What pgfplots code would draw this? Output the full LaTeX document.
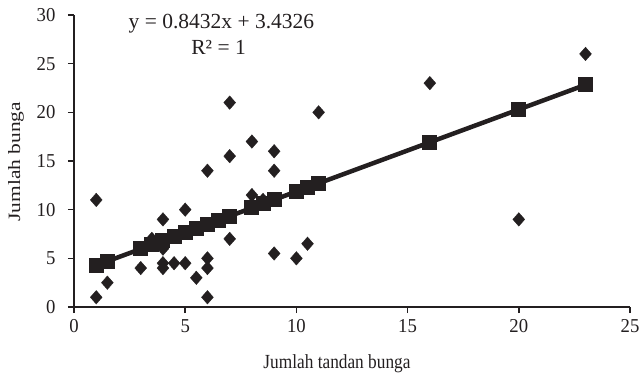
\documentclass[border=0pt]{standalone}
\usepackage{pgfplots}
\pgfplotsset{compat=1.18}
\usepackage{fontspec}
\setmainfont{Liberation Serif}
\newfontfamily\tickfont{Liberation Serif}[FakeStretch=0.95]
\newfontfamily\xlabfont{Liberation Serif}[FakeStretch=0.865]
\newfontfamily\ylabfont{Liberation Serif}[FakeStretch=1.24]
\definecolor{ink}{HTML}{231F20}
\begin{document}
\begin{tikzpicture}
\useasboundingbox (-74pt,-74pt) rectangle (569pt,307pt);
\begin{axis}[
  at={(0pt,0pt)}, anchor=origin,
  scale only axis, width=556pt, height=292pt,
  xmin=0, xmax=25, ymin=0, ymax=30,
  axis x line=bottom, axis y line=left,
  axis line style={ink, line width=1.8pt, -},
  tick style={ink, line width=1.6pt},
  tick align=outside, major tick length=6pt,
  xtick={0,5,10,15,20,25}, ytick={0,5,10,15,20,25,30},
  /pgf/number format/assume math mode=true,
  ticklabel style={font=\tickfont\fontsize{19.7pt}{22pt}\selectfont, text=ink},
  xticklabel style={yshift=-3pt},
  yticklabel style={xshift=-9pt},
  xlabel={Jumlah tandan bunga}, ylabel={Jumlah bunga},
  xlabel style={font=\xlabfont\fontsize{20pt}{24pt}\selectfont, text=ink,
     at={(axis description cs:0.473,-0.2123)}, anchor=base},
  ylabel style={font=\ylabfont\fontsize{17.3pt}{20pt}\selectfont, text=ink,
     at={(axis description cs:-0.0971,0.4976)}, anchor=base},
  clip=false,
]
\addplot[only marks, mark=diamond*, mark size=6.8pt, mark options={xscale=1.17, fill=ink, draw=ink, line width=0.3pt}] coordinates {
(1,11) (1,1) (1.5,2.5) (3,4) (3.5,7) (4,9) (4,6) (4,4.5) (4,4) (4.5,4.5) (5,4.5) (5,10) (5.5,3)
(6,5) (6,4) (6,1) (6,14) (7,21) (7,15.5) (7,7) (8,17) (8,11.5) (8.5,11) (9,16) (9,14) (9,5.5)
(10,5) (10.5,6.5) (11,20) (16,23) (20,9) (23,26)
};
\addplot[ink, line width=4.5pt, mark=square*, mark size=7pt, mark options={fill=ink, draw=ink, line width=0pt}] coordinates {
(1,4.2758) (1.5,4.6974) (3,5.9622) (3.5,6.3838) (4,6.8054) (4.5,7.2270) (5,7.6486) (5.5,8.0702)
(6,8.4918) (6.5,8.9134) (7,9.3350) (8,10.1782) (8.5,10.5998) (9,11.0214) (10,11.8646)
(10.5,12.2862) (11,12.7078) (16,16.9238) (20,20.2966) (23,22.8262)
};
\node[text=ink, anchor=base, font=\fontsize{21.5pt}{26pt}\selectfont] at (axis cs:6.63,28.57) {y = 0.8432x + 3.4326};
\node[text=ink, anchor=base, font=\fontsize{21.5pt}{26pt}\selectfont] at (axis cs:6.5,25.9) {R² = 1};
\end{axis}
\end{tikzpicture}
\end{document}
